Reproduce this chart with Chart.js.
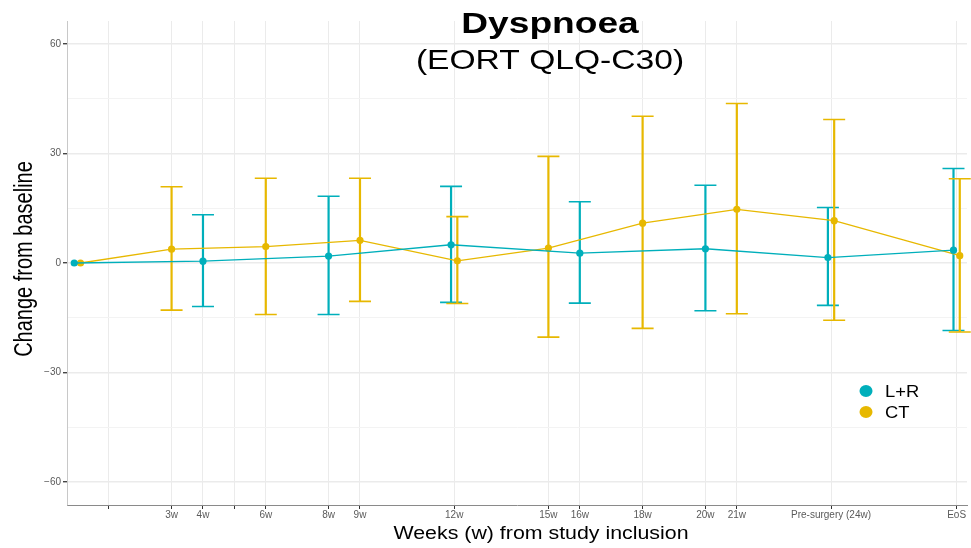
<!DOCTYPE html>
<html>
<head>
<meta charset="utf-8">
<script src="https://cdn.jsdelivr.net/npm/chart.js@4.4.1/dist/chart.umd.min.js"></script>
<style>
  html, body { margin: 0; padding: 0; background: #ffffff; overflow: hidden; }
  canvas { display: block; }
</style>
</head>
<body>
<canvas id="c" width="971" height="548"></canvas>
<script>
// Assessment weeks per arm (week 28 = end of study, "EoS")
const lrWeeks = [0, 4, 8, 12, 16, 20, 24, 28];
const lrMean  = [0, 0.5, 1.9, 5.0, 2.7, 3.9, 1.5, 3.5];
const lrLower = [null, -11.9, -14.1, -10.8, -11.0, -13.1, -11.6, -18.5];
const lrUpper = [null, 13.2, 18.3, 21.0, 16.8, 21.3, 15.2, 25.9];

const ctWeeks = [0, 3, 6, 9, 12, 15, 18, 21, 24, 28];
const ctMean  = [0, 3.8, 4.5, 6.2, 0.6, 4.1, 10.9, 14.7, 11.6, 2.0];
const ctLower = [null, -12.9, -14.1, -10.5, -11.1, -20.3, -17.9, -13.9, -15.7, -18.9];
const ctUpper = [null, 20.9, 23.2, 23.2, 12.7, 29.2, 40.2, 43.7, 39.3, 23.1];

// Axis breaks and their labels
const xTickWeeks  = [1, 3, 4, 5, 6, 8, 9, 12, 15, 16, 18, 20, 21, 24, 28];
const xTickLabels = ['', '3w', '4w', '', '6w', '8w', '9w', '12w', '15w', '16w', '18w', '20w', '21w', 'Pre-surgery (24w)', 'EoS'];
const yTickValues = [-60, -45, -30, -15, 0, 15, 30, 45, 60];
const yTickLabels = ['\u221260', '', '\u221230', '', '0', '', '30', '', '60'];

const seriesNames  = ['L+R', 'CT'];
const seriesColors = ['#00AFBB', '#E7B800'];

const FONT = '"Liberation Sans", Arial, Helvetica, sans-serif';

// Shift the two arms apart slightly where they share a visit
const DODGE = 0.1;
const sharedWeeks = lrWeeks.filter(w => ctWeeks.includes(w));
function toPoints(weeks, values, dir) {
  return weeks.map((w, i) => ({ x: sharedWeeks.includes(w) ? w + dir * DODGE : w, y: values[i] }));
}

// Vertical error bars with caps, drawn behind lines and points
const errorBars = {
  id: 'errorBars',
  beforeDatasetsDraw(chart) {
    const { ctx, scales: { x, y } } = chart;
    const capHalf = 11;
    chart.data.datasets.forEach(ds => {
      ctx.save();
      ctx.strokeStyle = ds.borderColor;
      ds.data.forEach((p, i) => {
        const lo = ds.lower[i], hi = ds.upper[i];
        if (lo == null || hi == null) return;
        const px = x.getPixelForValue(p.x);
        const yLo = y.getPixelForValue(lo);
        const yHi = y.getPixelForValue(hi);
        ctx.lineWidth = 2.2;
        ctx.beginPath();
        ctx.moveTo(px, yLo); ctx.lineTo(px, yHi);
        ctx.stroke();
        ctx.lineWidth = 1.6;
        ctx.beginPath();
        ctx.moveTo(px - capHalf, yLo); ctx.lineTo(px + capHalf, yLo);
        ctx.moveTo(px - capHalf, yHi); ctx.lineTo(px + capHalf, yHi);
        ctx.stroke();
      });
      ctx.restore();
    });
  }
};

function wideText(ctx, text, x, y, font, sx, color, align) {
  ctx.save();
  ctx.font = font;
  ctx.fillStyle = color;
  ctx.textAlign = align;
  ctx.textBaseline = 'alphabetic';
  ctx.translate(x, y);
  ctx.scale(sx, 1);
  ctx.fillText(text, 0, 0);
  ctx.restore();
}

// Titles, axis titles and the legend
const annotations = {
  id: 'annotations',
  afterDraw(chart) {
    const ctx = chart.ctx;
    wideText(ctx, 'Dyspnoea', 550, 33, 'bold 29px ' + FONT, 1.28, '#000', 'center');
    wideText(ctx, '(EORT QLQ-C30)', 550, 69, '28px ' + FONT, 1.2, '#000', 'center');
    wideText(ctx, 'Weeks (w) from study inclusion', 541, 539, '17.5px ' + FONT, 1.22, '#000', 'center');

    ctx.save();
    ctx.translate(32, 259);
    ctx.rotate(-Math.PI / 2);
    ctx.scale(1, 1.28);
    ctx.font = '20px ' + FONT;
    ctx.fillStyle = '#000';
    ctx.textAlign = 'center';
    ctx.textBaseline = 'alphabetic';
    ctx.fillText('Change from baseline', 0, 0);
    ctx.restore();

    chart.data.datasets.forEach((ds, i) => {
      const cy = 391 + i * 21;
      ctx.save();
      ctx.fillStyle = ds.borderColor;
      ctx.beginPath();
      ctx.ellipse(866, cy, 6.5, 6, 0, 0, Math.PI * 2);
      ctx.fill();
      ctx.restore();
      wideText(ctx, ds.label, 885, cy + 6, '17px ' + FONT, 1.08, '#000', 'left');
    });
  }
};

new Chart(document.getElementById('c'), {
  type: 'line',
  data: {
    datasets: [
      {
        label: seriesNames[0],
        data: toPoints(lrWeeks, lrMean, -1),
        lower: lrLower, upper: lrUpper,
        borderColor: seriesColors[0], backgroundColor: seriesColors[0],
        borderWidth: 1.3, pointRadius: 3.6, pointBorderWidth: 0, tension: 0
      },
      {
        label: seriesNames[1],
        data: toPoints(ctWeeks, ctMean, 1),
        lower: ctLower, upper: ctUpper,
        borderColor: seriesColors[1], backgroundColor: seriesColors[1],
        borderWidth: 1.3, pointRadius: 3.6, pointBorderWidth: 0, tension: 0
      }
    ]
  },
  options: {
    responsive: false,
    devicePixelRatio: 1,
    animation: false,
    layout: { padding: { top: 21, right: 1, left: 0, bottom: 0 } },
    plugins: { legend: { display: false }, tooltip: { enabled: false }, title: { display: false } },
    scales: {
      x: {
        type: 'linear',
        min: -0.33, max: 28.33,
        afterBuildTicks(s) { s.ticks = xTickWeeks.map(v => ({ value: v })); },
        afterFit(s) { s.height = 43; s.paddingLeft = 0; s.paddingRight = 0; },
        ticks: {
          autoSkip: false, maxRotation: 0, minRotation: 0, padding: 0,
          color: '#5a5a5a', font: { family: FONT, size: 10 },
          callback(v) { const k = xTickWeeks.indexOf(v); return k >= 0 ? xTickLabels[k] : ''; }
        },
        grid: { color: '#ebebeb', lineWidth: 1, tickColor: '#333', tickLength: 4, drawTicks: true },
        border: { display: true, color: '#8a8a8a', width: 1 }
      },
      y: {
        min: -66.3, max: 66.3,
        afterBuildTicks(s) { s.ticks = yTickValues.map(v => ({ value: v })); },
        afterFit(s) { s.width = 67; s.paddingTop = 0; s.paddingBottom = 0; },
        ticks: {
          autoSkip: false, padding: 2,
          color: '#5a5a5a', font: { family: FONT, size: 10 },
          callback(v) { const k = yTickValues.indexOf(v); return k >= 0 ? yTickLabels[k] : ''; }
        },
        grid: {
          color: c => (c.tick && c.tick.value % 30 === 0) ? '#ebebeb' : '#f3f3f3',
          lineWidth: c => (c.tick && c.tick.value % 30 === 0) ? 1.4 : 1,
          tickColor: c => (c.tick && c.tick.value % 30 === 0) ? '#444' : 'rgba(0,0,0,0)',
          tickLength: 4, drawTicks: true
        },
        border: { display: true, color: '#c8c8c8', width: 1 }
      }
    }
  },
  plugins: [errorBars, annotations]
});
</script>
</body>
</html>
